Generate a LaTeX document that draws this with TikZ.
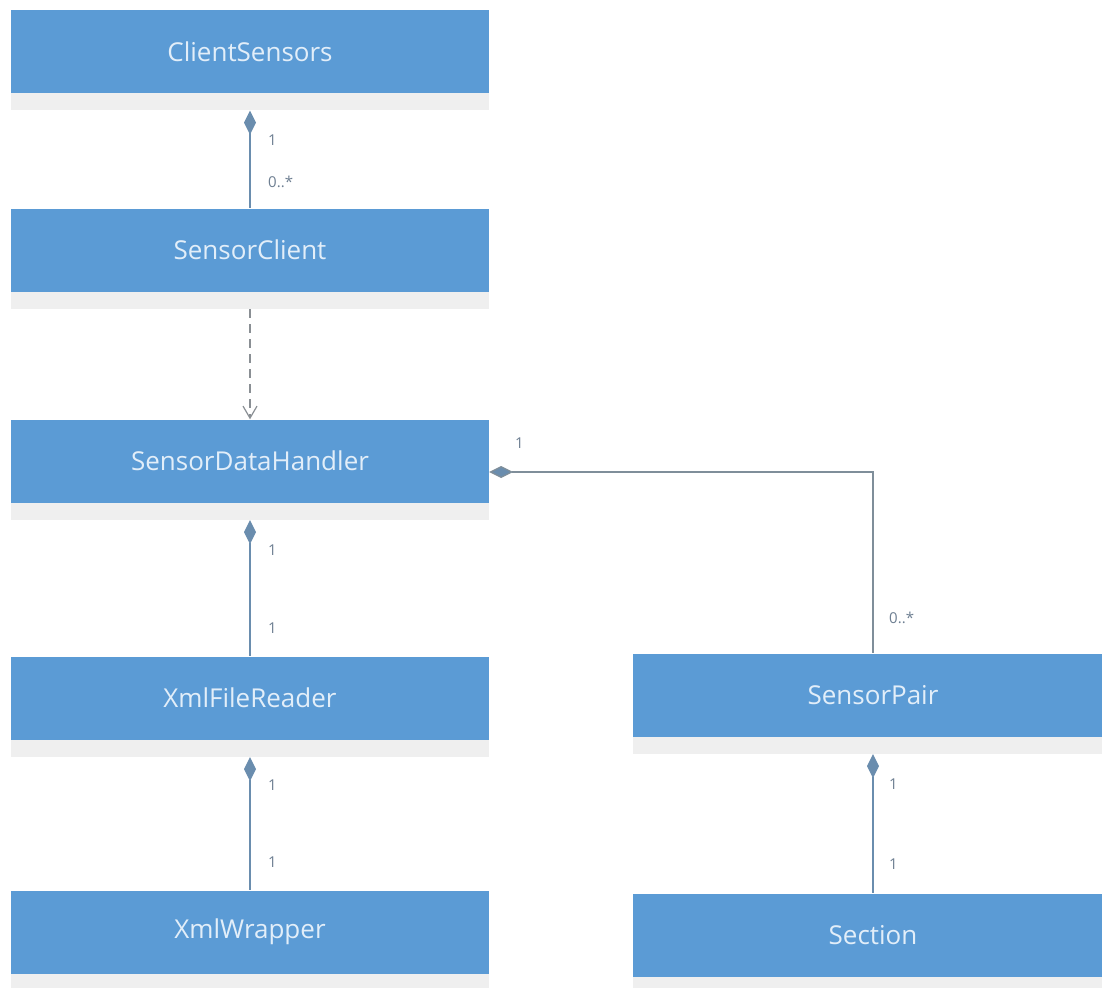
\documentclass[tikz,border=0pt]{standalone}
\usepackage{fontspec}
\setmainfont{Open Sans}
\usetikzlibrary{arrows.meta,positioning}
\definecolor{boxblue}{HTML}{5B9BD5}
\definecolor{boxtext}{HTML}{E2EEF9}
\definecolor{bandgray}{HTML}{EFEFEF}
\definecolor{linecol}{HTML}{6A8DAE}
\definecolor{hlinecol}{HTML}{7F8E9A}
\definecolor{dashcol}{HTML}{8A8F94}
\definecolor{lblcol}{HTML}{6E7F92}
\tikzset{
  cls/.style={rectangle, fill=boxblue, draw=none, minimum width=478pt, minimum height=83pt,
    inner sep=0pt, text=boxtext, font=\fontsize{26}{30}\selectfont},
  band/.style={rectangle, fill=bandgray, draw=none, minimum width=478pt, minimum height=17pt, inner sep=0pt},
  comp/.style={draw=linecol, line width=1.3pt, {Diamond[length=24pt,width=12pt,fill=linecol]}-},
  depend/.style={draw=dashcol, line width=1.2pt, dash pattern=on 9pt off 6pt, -{Straight Barb[length=12pt,width=14pt,line width=1.2pt]}},
  mult/.style={anchor=west, text=lblcol, inner sep=0pt, font=\fontsize{15}{18}\selectfont}
}
\begin{document}
\begin{tikzpicture}[x=1pt,y=-1pt]
\useasboundingbox[fill=white] (0,0) rectangle (1102,987);
% left column
\node[cls] (cs) at (250,51.5) {ClientSensors};
\node[band, below=0pt of cs] (csb) {};
\node[cls] (sc) at (250,250) {SensorClient};
\node[band, below=0pt of sc] (scb) {};
\node[cls] (sdh) at (250,461) {SensorDataHandler};
\node[band, below=0pt of sdh] (sdhb) {};
\node[cls] (xfr) at (250,698) {XmlFileReader};
\node[band, below=0pt of xfr] (xfrb) {};
\node[cls] (xw) at (250,932) {XmlWrapper};
\node[band, below=0pt of xw] (xwb) {};
% right column
\node[cls, minimum width=480pt] (sp) at (873,695) {SensorPair};
\node[band, minimum width=480pt, below=0pt of sp] (spb) {};
\node[cls, minimum width=480pt] (sec) at (873,935) {Section};
\node[band, minimum width=480pt, below=0pt of sec] (secb) {};
% connectors
\draw[comp] (csb.south) -- (sc.north);
\draw[depend] (scb.south) -- (sdh.north);
\draw[comp] (sdhb.south) -- (xfr.north);
\draw[comp] (xfrb.south) -- (xw.north);
\draw[comp] (spb.south) -- (sec.north);
\draw[comp, draw=hlinecol] ([yshift=-11pt]sdh.east) -| (sp.north);
% multiplicities
\node[mult] (m1) at (268,140) {1};
\node[mult] (m2) at (268,182) {0..*};
\node[mult] (m3) at (515,443) {1};
\node[mult] (m4) at (889,618) {0..*};
\node[mult] (m5) at (268,550) {1};
\node[mult] (m6) at (268,628) {1};
\node[mult] (m7) at (268,785) {1};
\node[mult] (m8) at (268,862) {1};
\node[mult] (m9) at (889,784) {1};
\node[mult] (m10) at (889,864) {1};
\end{tikzpicture}
\end{document}
